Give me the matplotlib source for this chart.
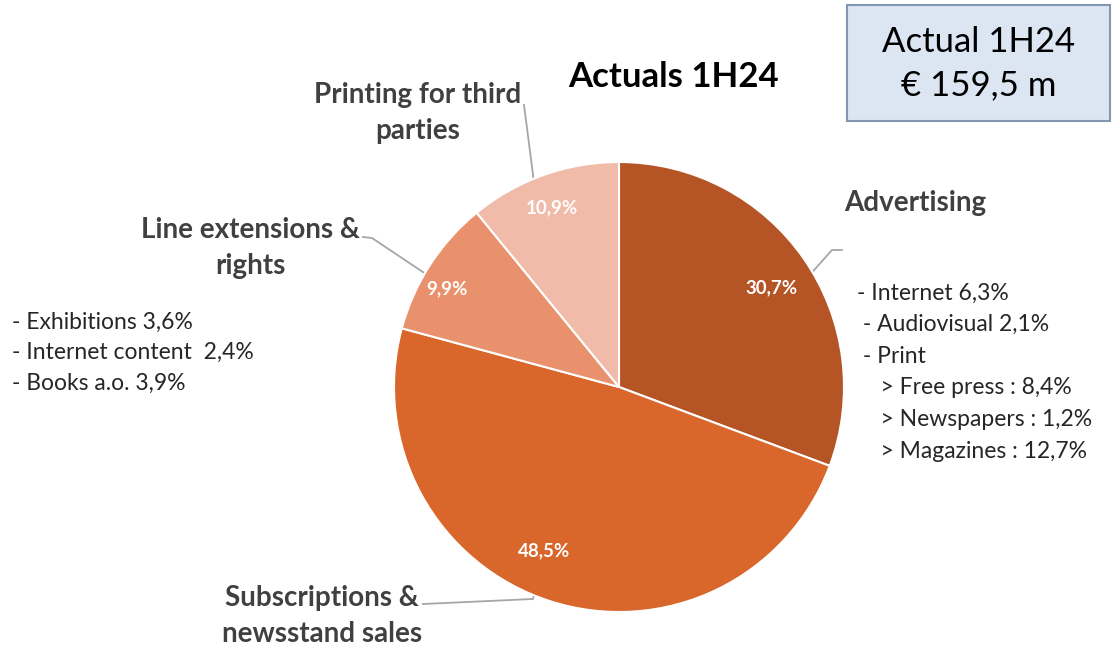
import numpy as np
import matplotlib
matplotlib.use("Agg")
import matplotlib.pyplot as plt
from matplotlib.patches import Rectangle

# ---- data ----
categories = ["Advertising", "Subscriptions &\nnewsstand sales", "Line extensions &\nrights", "Printing for third\nparties"]
shares = [30.7, 48.5, 9.9, 10.9]
pct_labels = ["30,7%", "48,5%", "9,9%", "10,9%"]
title = "Actuals 1H24"
box_lines = ["Actual 1H24", "€ 159,5 m"]
adv_details = ["- Internet 6,3%", " - Audiovisual 2,1%", " - Print", "    > Free press : 8,4%", "    > Newspapers : 1,2%", "    > Magazines : 12,7%"]
line_ext_details = ["- Exhibitions 3,6%", "- Internet content  2,4%", "- Books a.o. 3,9%"]

# ---- style ----
colors = ["#B55526", "#D9662B", "#E9906C", "#F1BBA9"]
W, H = 1120, 655
plt.rcParams['font.family'] = ['Lato', 'DejaVu Sans']
fig = plt.figure(figsize=(W / 100, H / 100), dpi=100)
ax = fig.add_axes([0, 0, 1, 1])


def Y(p):
    return H - p


cx, cy, R = 619, Y(387), 225
wedges, _ = ax.pie(shares, colors=colors, startangle=90, counterclock=False,
                   center=(cx, cy), radius=R, frame=True,
                   wedgeprops=dict(edgecolor='white', linewidth=1.5))
ax.set_xlim(0, W)
ax.set_ylim(0, H)
ax.set_aspect('equal')
ax.axis('off')

# percentage labels (radius fraction, angle offset in degrees)
pct_pos = [(0.81, -1.8), (0.80, -6.8), (0.88, 3.3), (0.85, 0.9)]
for w, lab, (rf, da) in zip(wedges, pct_labels, pct_pos):
    ang = np.deg2rad((w.theta1 + w.theta2) / 2 + da)
    ax.text(cx + rf * R * np.cos(ang), cy + rf * R * np.sin(ang), lab,
            ha='center', va='center', color='white', fontsize=13.5, fontweight='bold', zorder=5)

# category labels with leader lines
lab_color = '#404040'
line_color = '#A6A6A6'
lab_fs = 20
label_specs = [
    dict(xy_text=(915, 203), knee=(832, 250), end=(842, 250), da=-4.0),
    dict(xy_text=(322, 616), knee=(533, 599), end=(423, 604), da=-4.4),
    dict(xy_text=(250, 248), knee=(372, 238), end=(363, 237), da=2.6),
    dict(xy_text=(418, 113), knee=(524, 105), end=(524, 105), da=2.7),
]
for w, cat, sp in zip(wedges, categories, label_specs):
    ax.text(sp['xy_text'][0], Y(sp['xy_text'][1]), cat, ha='center', va='center',
            fontsize=lab_fs, fontweight='bold', color=lab_color, linespacing=1.45)
    ang = np.deg2rad((w.theta1 + w.theta2) / 2 + sp['da'])
    ex, ey = cx + R * np.cos(ang), cy + R * np.sin(ang)
    kx, ky = sp['knee']
    nx, ny = sp['end']
    ax.plot([ex, kx, nx], [ey, Y(ky), Y(ny)], color=line_color, lw=1.3, zorder=0.5)

# title
ax.text(673, Y(77), title, ha='center', va='center', fontsize=25, fontweight='bold', color='black')

# detail lists
for i, s in enumerate(adv_details):
    ax.text(857, Y(293 + i * 31.6), s, ha='left', va='center', fontsize=16.5, color='#262626')
for i, s in enumerate(line_ext_details):
    ax.text(12, Y(322 + i * 30.5), s, ha='left', va='center', fontsize=16.5, color='#262626')

# info box
ax.add_patch(Rectangle((847, Y(121)), 263, 116, facecolor='#DCE6F2', edgecolor='#8497B0', lw=1.5))
ax.text(979, Y(42), box_lines[0], ha='center', va='center', fontsize=25, color='black')
ax.text(979, Y(85), box_lines[1], ha='center', va='center', fontsize=25, color='black')

fig.savefig('out.png', dpi=100)
